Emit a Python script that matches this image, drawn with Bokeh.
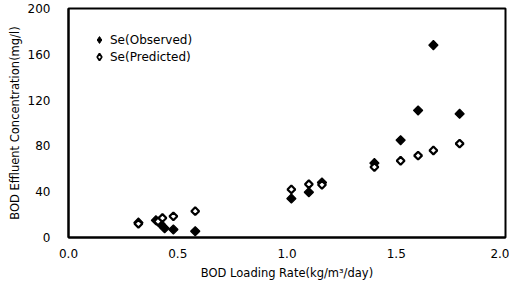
import math
from bokeh.plotting import figure
from bokeh.models import Range1d, Legend, LegendItem, FixedTicker, ColumnDataSource
from bokeh.embed import file_html
from bokeh.resources import INLINE

# Observed effluent BOD (filled markers)
obs_x = [0.32, 0.40, 0.42, 0.44, 0.48, 0.58, 1.02, 1.10, 1.16, 1.40, 1.52, 1.60, 1.67, 1.79]
obs_y = [13, 15, 12, 8, 7, 5.5, 34, 39.5, 48, 65, 85, 111, 168, 108]
# Predicted effluent BOD (open markers)
pred_x = [0.32, 0.41, 0.43, 0.48, 0.58, 1.02, 1.10, 1.16, 1.40, 1.52, 1.60, 1.67, 1.79]
pred_y = [12, 14, 17, 18.5, 23, 42, 46.5, 46, 61.5, 67, 71.5, 76, 82]

x_ticks = [0.0, 0.5, 1.0, 1.5, 2.0]
x_tick_labels = ["0.0", "0.5", "1.0", "1.5", "2.0"]
y_ticks = [0, 40, 80, 120, 160, 200]

FONT = "DejaVu Sans"

p = figure(width=509, height=282, output_backend="svg", toolbar_location=None,
           x_range=Range1d(0, 2.0), y_range=Range1d(0, 200),
           min_border_left=68, min_border_right=4, min_border_top=8, min_border_bottom=40)
p.grid.visible = False
p.background_fill_color = "white"
p.outline_line_color = "black"
p.outline_line_width = 2

p.xaxis.ticker = FixedTicker(ticks=x_ticks)
p.xaxis.major_label_overrides = {t: l for t, l in zip(x_ticks, x_tick_labels)}
p.yaxis.ticker = FixedTicker(ticks=y_ticks)

for ax in (p.xaxis[0], p.yaxis[0]):
    ax.axis_line_color = "black"
    ax.axis_line_width = 2
    ax.major_tick_line_color = None
    ax.minor_tick_line_color = None
    ax.major_label_text_font = FONT
    ax.major_label_text_font_size = "12px"
    ax.major_label_text_color = "black"
    ax.axis_label_text_font = FONT
    ax.axis_label_text_font_size = "11.5px"
    ax.axis_label_text_font_style = "normal"
    ax.axis_label_text_color = "black"

p.xaxis.axis_label = "BOD Loading Rate(kg/m³/day)"
p.yaxis.axis_label = "BOD Effluent Concentration(mg/l)"
p.xaxis.major_label_standoff = 5
p.xaxis.axis_label_standoff = 5
p.yaxis.major_label_standoff = 12
p.yaxis.axis_label_standoff = 3

src_obs = ColumnDataSource(dict(x=obs_x, y=obs_y))
src_pred = ColumnDataSource(dict(x=pred_x, y=pred_y))

r_obs = p.scatter("x", "y", source=src_obs, marker="square", size=6.5, angle=math.pi / 4,
                  fill_color="black", line_color="black", line_width=1.2)
r_pred = p.scatter("x", "y", source=src_pred, marker="square", size=5.5, angle=math.pi / 4,
                   fill_color="white", line_color="black", line_width=2.2)

# legend-key glyphs (no plotted points) so the key shows diamond shapes
nan = float("nan")
leg_obs = p.scatter("x", "y", source=ColumnDataSource(dict(x=[nan], y=[nan])), marker="diamond",
                    size=12, fill_color="black", line_color="black", line_width=1)
leg_pred = p.scatter("x", "y", source=ColumnDataSource(dict(x=[nan], y=[nan])), marker="diamond",
                     size=12, fill_color="white", line_color="black", line_width=1.8)

legend = Legend(items=[LegendItem(label="Se(Observed)", renderers=[leg_obs]),
                       LegendItem(label="Se(Predicted)", renderers=[leg_pred])],
                location=(22, 172), padding=0, margin=0, spacing=0,
                glyph_width=18, glyph_height=17, label_standoff=2,
                border_line_color=None, background_fill_alpha=0,
                label_text_font=FONT, label_text_font_size="12px",
                label_text_color="black")
p.add_layout(legend)

open("out.html", "w").write(file_html(p, INLINE))
